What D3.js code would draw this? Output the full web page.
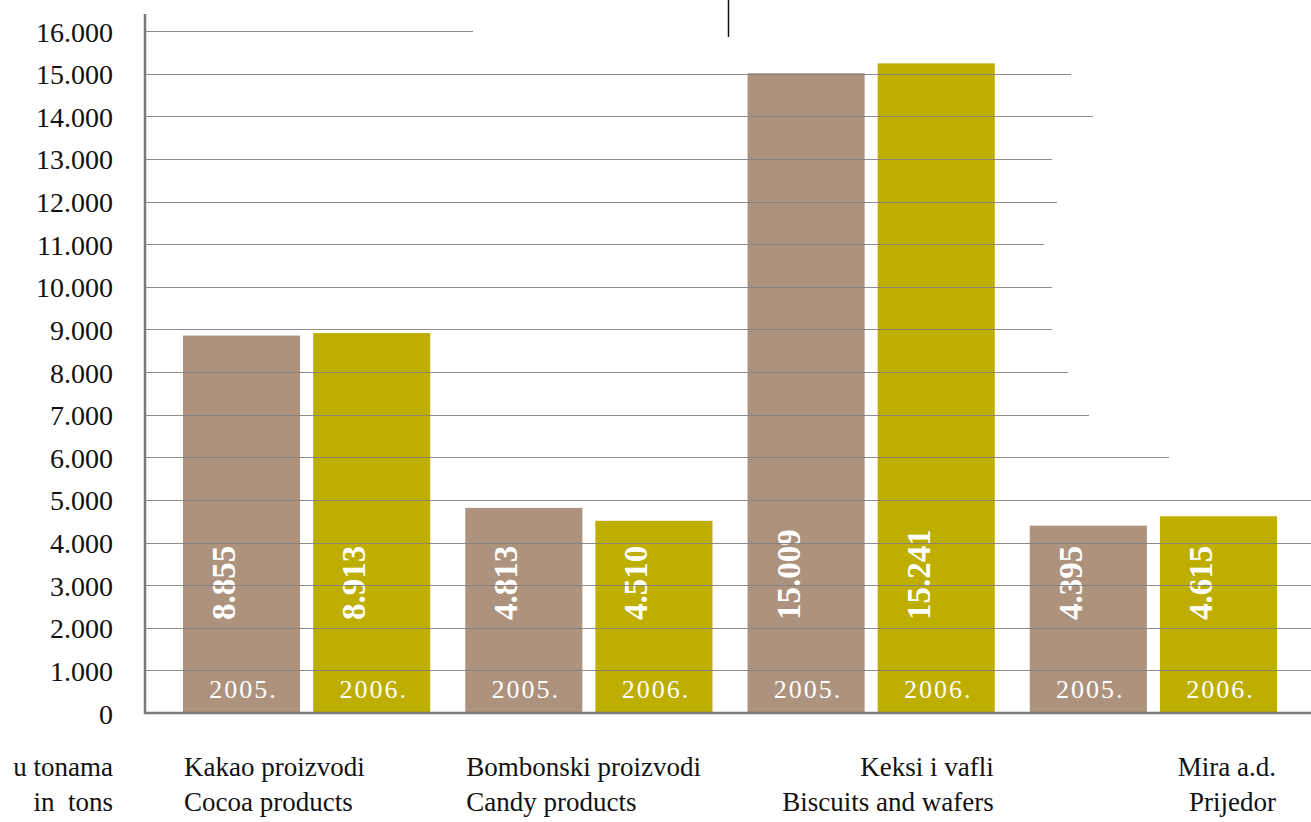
<!DOCTYPE html>
<html>
<head>
<meta charset="utf-8">
<script src="https://cdn.jsdelivr.net/npm/d3@7"></script>
<style>
  html, body { margin: 0; padding: 0; background: #fff; }
  svg { display: block; }
  svg text { font-family: "Liberation Serif", "Times New Roman", serif !important; }
</style>
</head>
<body>
<svg id="chart" width="1311" height="822"></svg>
<script>
// Production volume in tons, by product group
const categoriesLocal = ["Kakao proizvodi", "Bombonski proizvodi", "Keksi i vafli", "Mira a.d."];
const categoriesEnglish = ["Cocoa products", "Candy products", "Biscuits and wafers", "Prijedor"];
const years = ["2005.", "2006."];
const values2005 = [8855, 4813, 15009, 4395];
const values2006 = [8913, 4510, 15241, 4615];
const valueLabels2005 = ["8.855", "4.813", "15.009", "4.395"];
const valueLabels2006 = ["8.913", "4.510", "15.241", "4.615"];
const yTicks = [0, 1000, 2000, 3000, 4000, 5000, 6000, 7000, 8000, 9000, 10000, 11000, 12000, 13000, 14000, 15000, 16000];
const yTickLabels = ["0", "1.000", "2.000", "3.000", "4.000", "5.000", "6.000", "7.000", "8.000", "9.000", "10.000", "11.000", "12.000", "13.000", "14.000", "15.000", "16.000"];
const unitLabels = ["u tonama", "in  tons"];

// Layout: right end of each horizontal rule (one per tick) and caption alignment
const gridRight = [1311, 1311, 1311, 1311, 1311, 1311, 1169, 1089, 1068, 1052, 1052, 1044, 1057, 1052, 1093, 1071, 473];
const captionAnchor = ["start", "start", "end", "end"];
const colors = { "2005.": "#ad937d", "2006.": "#bdae00" };
const serif = "'Liberation Serif', 'Times New Roman', serif";

const svg = d3.select("#chart");
const axisX = 145;

const y = d3.scaleLinear().domain([0, 16000]).range([713, 31]);

const x0 = d3.scaleBand()
  .domain(categoriesLocal)
  .range([183, 1277])
  .paddingInner(35 / 282)
  .paddingOuter(0);

const x1 = d3.scaleBand()
  .domain(years)
  .range([0, x0.bandwidth()])
  .paddingInner(13 / 130)
  .paddingOuter(0);

const rows = categoriesLocal.map((c, i) => ({
  cat: c,
  bars: [
    { year: years[0], value: values2005[i], label: valueLabels2005[i] },
    { year: years[1], value: values2006[i], label: valueLabels2006[i] }
  ]
}));

// Bars
const groups = svg.append("g").selectAll("g")
  .data(rows)
  .join("g")
  .attr("transform", d => `translate(${x0(d.cat)},0)`);

groups.selectAll("rect")
  .data(d => d.bars)
  .join("rect")
  .attr("x", d => x1(d.year))
  .attr("y", d => y(d.value))
  .attr("width", x1.bandwidth())
  .attr("height", d => y(0) - y(d.value))
  .attr("fill", d => colors[d.year]);

// Horizontal rules drawn over the bars
svg.append("g").selectAll("line")
  .data(yTicks.slice(1))
  .join("line")
  .attr("x1", axisX)
  .attr("x2", (d, i) => gridRight[i + 1])
  .attr("y1", d => Math.round(y(d)) + 0.5)
  .attr("y2", d => Math.round(y(d)) + 0.5)
  .attr("stroke", "#808080")
  .attr("stroke-width", 1.2)
  .attr("stroke-opacity", 0.9);

// Value labels (rotated) and year labels inside the bars
groups.selectAll("text.value")
  .data(d => d.bars)
  .join("text")
  .attr("class", "value")
  .attr("transform", d => `translate(${x1(d.year) + x1.bandwidth() / 2 - 6.5},${y(0) - 93}) rotate(-90)`)
  .attr("text-anchor", "start")
  .attr("fill", "#fff")
  .style("font-family", serif)
  .attr("font-size", 33)
  .attr("font-weight", "bold")
  .text(d => d.label);

groups.selectAll("text.year")
  .data(d => d.bars)
  .join("text")
  .attr("class", "year")
  .attr("x", d => x1(d.year) + x1.bandwidth() / 2 + 2)
  .attr("y", y(0) - 15)
  .attr("text-anchor", "middle")
  .attr("fill", "#fff")
  .style("font-family", serif)
  .attr("font-size", 26)
  .attr("letter-spacing", 2)
  .text(d => d.year);

// Y axis with custom tick labels
const yAxis = d3.axisLeft(y)
  .tickValues(yTicks)
  .tickSize(0)
  .tickPadding(0)
  .tickFormat((d, i) => yTickLabels[i]);

const gy = svg.append("g")
  .attr("transform", "translate(113,0)")
  .call(yAxis)
  .attr("font-family", null);
gy.select(".domain").remove();
gy.selectAll("text")
  .style("font-family", serif)
  .attr("font-size", 28)
  .attr("fill", "#111")
  .attr("dy", "0.36em")
  .attr("text-anchor", "end");

// Axis line and baseline
svg.append("line")
  .attr("x1", axisX).attr("x2", axisX)
  .attr("y1", 14).attr("y2", y(0) + 1)
  .attr("stroke", "#7a7a7a").attr("stroke-width", 2.5);

svg.append("line")
  .attr("x1", axisX).attr("x2", 1311)
  .attr("y1", y(0)).attr("y2", y(0))
  .attr("stroke", "#7a7a7a").attr("stroke-width", 2.5);

// Short vertical marker at the top
svg.append("line")
  .attr("x1", 728.5).attr("x2", 728.5)
  .attr("y1", 0).attr("y2", 37)
  .attr("stroke", "#111").attr("stroke-width", 1.5);

// Category captions
const captions = svg.append("g").selectAll("g")
  .data(categoriesLocal.map((c, i) => ({ cat: c, en: categoriesEnglish[i], anchor: captionAnchor[i] })))
  .join("g");

captions.each(function (d) {
  const g = d3.select(this);
  const xPos = d.anchor === "start" ? x0(d.cat) + 1 : x0(d.cat) + x0.bandwidth() - 1;
  g.append("text")
    .attr("x", xPos).attr("y", 776)
    .attr("text-anchor", d.anchor)
    .style("font-family", serif)
    .attr("font-size", 27)
    .attr("fill", "#111")
    .text(d.cat);
  g.append("text")
    .attr("x", xPos).attr("y", 811)
    .attr("text-anchor", d.anchor)
    .style("font-family", serif)
    .attr("font-size", 27)
    .attr("fill", "#111")
    .text(d.en);
});

// Unit caption
svg.append("g").selectAll("text")
  .data(unitLabels)
  .join("text")
  .attr("x", 113)
  .attr("y", (d, i) => 776 + i * 35)
  .attr("text-anchor", "end")
  .style("font-family", serif)
  .attr("font-size", 27)
  .attr("fill", "#111")
  .style("white-space", "pre")
  .text(d => d);
</script>
</body>
</html>
